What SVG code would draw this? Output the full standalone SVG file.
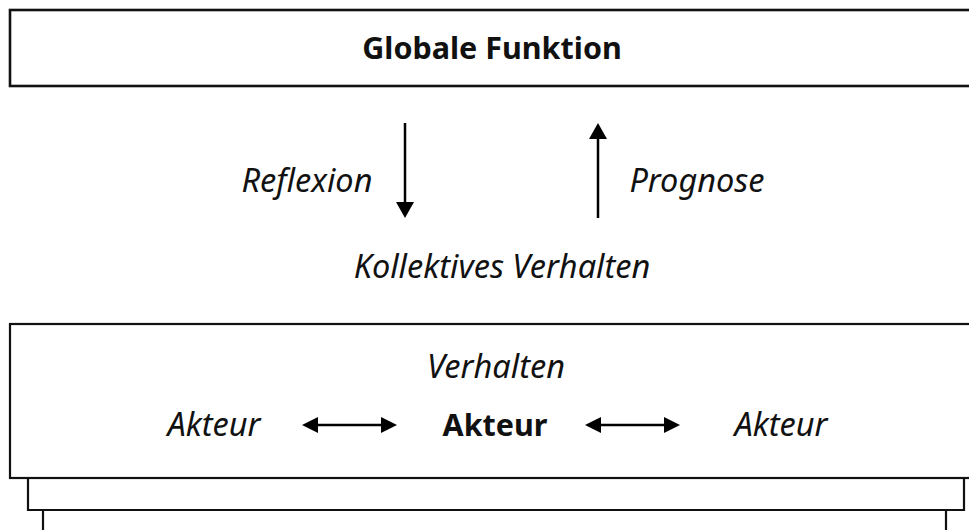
<svg xmlns="http://www.w3.org/2000/svg" width="969" height="530" viewBox="0 0 969 530">
<style>
.box{fill:#fff;stroke:#111;stroke-width:2.2}
.ln{fill:none;stroke:#111;stroke-width:2.2}
.t{font-family:"Noto Sans","Open Sans",sans-serif;font-size:32.5px;fill:#111;text-anchor:middle}
.i{font-style:italic}
.b{font-weight:bold;font-size:30.5px}
.ar{stroke:#000;stroke-width:2.5;fill:none}
.hd{fill:#000}
</style>
<rect width="969" height="530" fill="#fff"/>
<g id="globale-funktion">
<rect class="box" x="10" y="10" width="980" height="76" style="stroke-width:2.6"/>
<text class="t b" x="492" y="59">Globale Funktion</text>
</g>
<g id="labels">
<text class="t i" x="307" y="192">Reflexion</text>
<text class="t i" x="697" y="192">Prognose</text>
<text class="t i" x="502" y="278">Kollektives Verhalten</text>
</g>
<g id="verhalten">
<rect class="box" x="10" y="324" width="980" height="154"/>
<text class="t i" x="496" y="378">Verhalten</text>
</g>
<g id="akteur-left"><text class="t i" x="214" y="436">Akteur</text></g>
<g id="akteur-center"><text class="t b" x="495" y="436">Akteur</text></g>
<g id="akteur-right"><text class="t i" x="781" y="436">Akteur</text></g>
<g id="layers">
<path class="ln" d="M28 478 V510 H964 V478"/>
<path class="ln" d="M43 510 V535 M946 510 V535"/>
</g>
<g id="connectors">
<line class="ar" x1="405" y1="123" x2="405" y2="205"/>
<polygon class="hd" points="396,202 414,202 405,218"/>
<line class="ar" x1="598" y1="135" x2="598" y2="218"/>
<polygon class="hd" points="589,139 607,139 598,123"/>
<line class="ar" x1="312" y1="425" x2="387" y2="425"/>
<polygon class="hd" points="302,425 318,417 318,433"/>
<polygon class="hd" points="397,425 381,417 381,433"/>
<line class="ar" x1="595" y1="425" x2="670" y2="425"/>
<polygon class="hd" points="585,425 601,417 601,433"/>
<polygon class="hd" points="680,425 664,417 664,433"/>
</g>
</svg>
